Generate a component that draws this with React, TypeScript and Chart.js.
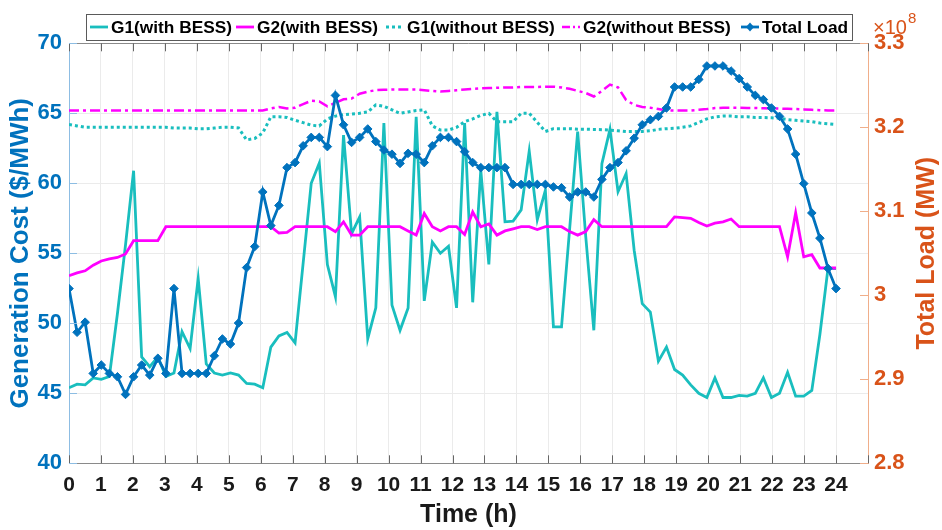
import React, { useEffect, useRef } from 'react';
import { Chart, registerables } from 'chart.js';

Chart.register(...registerables);

const FONT = '"Liberation Sans", Arial, Helvetica, sans-serif';
const BLUE = '#0072BD';
const ORANGE = '#D95319';
const TEAL = 'rgb(25,190,190)';
const MAGENTA = '#FF00FF';

// 96 samples over 0..24 h
const sampleCount = 96;
const timeH: number[] = Array.from({ length: sampleCount }, (_, i) => (i * 24) / (sampleCount - 1));

const xTickHours = [0, 1, 2, 3, 4, 5, 6, 7, 8, 9, 10, 11, 12, 13, 14, 15, 16, 17, 18, 19, 20, 21, 22, 23, 24];
const legendLabels = ['G1(with BESS)', 'G2(with BESS)', 'G1(without BESS)', 'G2(without BESS)', 'Total Load'];

const g1WithBess = [
  45.4, 45.65, 45.6, 46.1, 46.0, 46.2, 50.7, 55.6, 60.9, 47.6, 46.9, 47.6,
  46.2, 46.45, 49.4, 48.2, 53.2, 47.1, 46.45, 46.3, 46.45, 46.3, 45.7, 45.65,
  45.4, 48.3, 49.1, 49.35, 48.6, 54.3, 60.0, 61.45, 54.2, 51.9, 63.45, 56.4,
  57.6, 48.9, 51.1, 64.3, 51.3, 49.5, 51.1, 64.75, 51.6, 55.8, 55.0, 55.5,
  51.1, 64.3, 51.5, 60.95, 54.2, 65.1, 57.25, 57.3, 58.1, 62.3, 57.4, 59.5,
  49.75, 49.75, 56.7, 63.7, 56.2, 49.5, 61.4, 63.85, 59.4, 60.7, 55.2, 51.4,
  50.8, 47.3, 48.3, 46.7, 46.3, 45.6, 45.0, 44.7, 46.1, 44.7, 44.7, 44.85,
  44.8, 45.0, 46.1, 44.7, 45.0, 46.5, 44.8, 44.8, 45.2, 49.2, 53.9, 53.9,
];

const g2WithBess = [
  53.4, 53.6, 53.75, 54.15, 54.45, 54.6, 54.7, 54.95, 55.9, 55.9, 55.9, 55.9,
  56.9, 56.9, 56.9, 56.9, 56.9, 56.9, 56.9, 56.9, 56.9, 56.9, 56.9, 56.9,
  56.9, 56.9, 56.45, 56.5, 56.9, 56.9, 56.9, 56.9, 56.9, 56.55, 57.25, 56.3,
  56.3, 56.9, 56.9, 56.9, 56.9, 56.9, 56.6, 56.3, 57.85, 56.9, 56.6, 56.9,
  56.9, 56.35, 57.95, 56.9, 57.1, 56.3, 56.6, 56.75, 56.9, 56.9, 56.7, 56.9,
  56.9, 56.9, 56.55, 56.3, 56.55, 57.4, 56.9, 56.9, 56.9, 56.9, 56.9, 56.9,
  56.9, 56.9, 56.9, 57.6, 57.55, 57.5, 57.2, 56.95, 57.15, 57.25, 57.45, 56.9,
  56.9, 56.9, 56.9, 56.9, 56.9, 54.75, 57.9, 54.75, 54.9, 53.95, 53.95, 53.95,
];

const g1WithoutBess = [
  64.2, 64.1, 64.0, 64.0, 64.0, 64.0, 64.0, 64.0, 64.0, 64.0, 64.0, 64.0,
  64.0, 63.95, 63.95, 63.95, 63.9, 63.9, 63.95, 64.0, 64.0, 63.95, 63.1, 63.2,
  63.6, 64.75, 64.75, 64.7, 64.5, 64.33, 64.15, 64.1, 64.6, 64.8, 64.9, 64.95,
  65.0, 65.1, 65.6, 65.5, 65.25, 65.0, 65.1, 65.2, 65.25, 64.1, 63.8, 63.8,
  64.0, 64.4, 64.6, 64.85, 65.0, 64.4, 64.4, 64.4, 65.0, 65.0, 64.35, 63.7,
  63.9, 63.9, 63.9, 63.86, 63.86, 63.85, 63.83, 63.8, 63.75, 63.7, 63.7, 63.7,
  63.75, 63.85, 63.9, 63.93, 64.0, 64.1, 64.35, 64.6, 64.75, 64.8, 64.8, 64.75,
  64.75, 64.7, 64.7, 64.68, 64.65, 64.55, 64.5, 64.45, 64.4, 64.3, 64.25, 64.2,
];

const g2WithoutBess = [
  65.2, 65.2, 65.2, 65.2, 65.2, 65.2, 65.2, 65.2, 65.2, 65.2, 65.2, 65.2,
  65.2, 65.2, 65.2, 65.2, 65.2, 65.2, 65.2, 65.2, 65.2, 65.2, 65.2, 65.2,
  65.2, 65.35, 65.45, 65.35, 65.4, 65.65, 65.9, 65.85, 65.5, 65.75, 66.0, 66.05,
  66.4, 66.55, 66.65, 66.68, 66.7, 66.7, 66.7, 66.7, 66.65, 66.6, 66.55, 66.6,
  66.65, 66.7, 66.74, 66.78, 66.8, 66.82, 66.84, 66.85, 66.88, 66.88, 66.88, 66.9,
  66.9, 66.85, 66.75, 66.6, 66.45, 66.2, 66.6, 67.05, 66.85, 65.95, 65.6, 65.45,
  65.4, 65.3, 65.2, 65.2, 65.2, 65.2, 65.25, 65.3, 65.37, 65.4, 65.4, 65.4,
  65.38, 65.38, 65.36, 65.35, 65.34, 65.32, 65.3, 65.28, 65.25, 65.22, 65.2, 65.2,
];

// Total load in units of 1e8 MW
const totalLoad1e8 = [
  3.008, 2.956, 2.968, 2.907, 2.917, 2.907, 2.903, 2.882, 2.903, 2.917, 2.905, 2.925,
  2.907, 3.008, 2.907, 2.907, 2.907, 2.907, 2.928, 2.948, 2.942, 2.967, 3.033, 3.058,
  3.123, 3.083, 3.107, 3.152, 3.158, 3.178, 3.188, 3.188, 3.177, 3.238, 3.203, 3.182,
  3.188, 3.198, 3.183, 3.173, 3.168, 3.157, 3.169, 3.168, 3.158, 3.178, 3.188, 3.188,
  3.183, 3.171, 3.158, 3.152, 3.152, 3.152, 3.152, 3.132, 3.132, 3.132, 3.132, 3.132,
  3.129, 3.128, 3.117, 3.123, 3.123, 3.117, 3.138, 3.152, 3.158, 3.172, 3.187, 3.203,
  3.209, 3.213, 3.223, 3.248, 3.248, 3.248, 3.257, 3.273, 3.273, 3.273, 3.267, 3.258,
  3.248, 3.238, 3.233, 3.223, 3.213, 3.198, 3.168, 3.133, 3.098, 3.068, 3.032, 3.008,
];

const pts = (vals: number[]) => vals.map((v, i) => ({ x: timeH[i], y: v }));

const decorPlugin = {
  id: 'decor',
  afterDraw(chart: any) {
    const { ctx, chartArea: ca, scales } = chart;
    const xs = scales.x;
    const yl = scales.y;
    const yr = scales.y1;
    ctx.save();
    // top border
    ctx.strokeStyle = '#8a8a8a';
    ctx.lineWidth = 1;
    ctx.beginPath();
    ctx.moveTo(ca.left, Math.round(ca.top) + 0.5);
    ctx.lineTo(ca.right, Math.round(ca.top) + 0.5);
    ctx.stroke();
    // x tick marks (inward, bottom and top)
    ctx.strokeStyle = '#666666';
    for (let h = 0; h <= 25; h++) {
      const px = Math.round(xs.getPixelForValue(h)) + 0.5;
      ctx.beginPath();
      ctx.moveTo(px, ca.bottom);
      ctx.lineTo(px, ca.bottom - 8);
      ctx.moveTo(px, ca.top);
      ctx.lineTo(px, ca.top + 8);
      ctx.stroke();
    }
    // left ticks
    ctx.strokeStyle = '#8dbde3';
    for (let v = 40; v <= 70; v += 5) {
      const py = Math.round(yl.getPixelForValue(v)) + 0.5;
      ctx.beginPath();
      ctx.moveTo(ca.left, py);
      ctx.lineTo(ca.left + 8, py);
      ctx.stroke();
    }
    // right ticks
    ctx.strokeStyle = '#f0ae8a';
    for (let k = 0; k <= 5; k++) {
      const py = Math.round(yr.getPixelForValue(2.8 + k * 0.1)) + 0.5;
      ctx.beginPath();
      ctx.moveTo(ca.right, py);
      ctx.lineTo(ca.right - 8, py);
      ctx.stroke();
    }

    // right title, reading upward
    ctx.fillStyle = ORANGE;
    ctx.font = `bold 25px ${FONT}`;
    ctx.textAlign = 'center';
    ctx.textBaseline = 'middle';
    ctx.save();
    ctx.translate(927, (ca.top + ca.bottom) / 2);
    ctx.rotate(-Math.PI / 2);
    ctx.fillText('Total Load (MW)', 0, 0);
    ctx.restore();

    // exponent label
    ctx.textAlign = 'left';
    ctx.textBaseline = 'alphabetic';
    ctx.font = `20px ${FONT}`;
    ctx.fillText('\u00d710', 873, 34);
    const w = ctx.measureText('\u00d710').width;
    ctx.font = `15px ${FONT}`;
    ctx.fillText('8', 873 + w + 1, 23);

    // legend
    const bx = 86, by = 14, bw = 766, bh = 26;
    ctx.fillStyle = '#ffffff';
    ctx.fillRect(bx, by, bw, bh);
    ctx.strokeStyle = '#5a5a5a';
    ctx.lineWidth = 1;
    ctx.strokeRect(bx + 0.5, by + 0.5, bw, bh);
    const starts = [90, 236, 386, 562, 741];
    const ly = by + bh / 2;
    const styles = [
      { c: TEAL, dash: [] as number[], w: 2.8 },
      { c: MAGENTA, dash: [] as number[], w: 2.8 },
      { c: TEAL, dash: [3, 3], w: 3 },
      { c: MAGENTA, dash: [8, 3, 2, 3], w: 2.5 },
      { c: BLUE, dash: [] as number[], w: 2.8 },
    ];
    legendLabels.forEach((label, i) => {
      const sx = starts[i];
      const st = styles[i];
      ctx.save();
      ctx.strokeStyle = st.c;
      ctx.lineWidth = st.w;
      ctx.setLineDash(st.dash);
      ctx.beginPath();
      ctx.moveTo(sx, ly);
      ctx.lineTo(sx + 18, ly);
      ctx.stroke();
      ctx.restore();
      if (i === 4) {
        ctx.fillStyle = BLUE;
        ctx.beginPath();
        ctx.moveTo(sx + 9, ly - 4.5);
        ctx.lineTo(sx + 13, ly);
        ctx.lineTo(sx + 9, ly + 4.5);
        ctx.lineTo(sx + 5, ly);
        ctx.closePath();
        ctx.fill();
      }
      ctx.fillStyle = '#000000';
      ctx.font = `bold 17.3px ${FONT}`;
      ctx.textAlign = 'left';
      ctx.textBaseline = 'middle';
      ctx.fillText(label, sx + 21, ly + 1);
    });
    ctx.restore();
  },
};

export default function App() {
  const ref = useRef<HTMLCanvasElement>(null);
  useEffect(() => {
    document.body.style.margin = '0';
    const canvas = ref.current!;
    const chart = new Chart(canvas, {
      type: 'line',
      data: {
        datasets: [
          {
            label: legendLabels[4],
            data: pts(totalLoad1e8),
            yAxisID: 'y1',
            borderColor: BLUE,
            backgroundColor: BLUE,
            borderWidth: 2.8,
            pointStyle: 'rectRot',
            pointRadius: 4.3,
            pointBorderWidth: 1,
            pointBackgroundColor: BLUE,
            pointBorderColor: BLUE,
            tension: 0,
            order: 0,
          },
          {
            label: legendLabels[3],
            data: pts(g2WithoutBess),
            yAxisID: 'y',
            borderColor: MAGENTA,
            borderWidth: 2.5,
            borderDash: [10, 4, 3, 4],
            pointRadius: 0,
            tension: 0,
            order: 1,
          },
          {
            label: legendLabels[2],
            data: pts(g1WithoutBess),
            yAxisID: 'y',
            borderColor: TEAL,
            borderWidth: 3,
            borderDash: [3, 3],
            pointRadius: 0,
            tension: 0,
            order: 2,
          },
          {
            label: legendLabels[1],
            data: pts(g2WithBess),
            yAxisID: 'y',
            borderColor: MAGENTA,
            borderWidth: 2.8,
            pointRadius: 0,
            tension: 0,
            order: 3,
          },
          {
            label: legendLabels[0],
            data: pts(g1WithBess),
            yAxisID: 'y',
            borderColor: TEAL,
            borderWidth: 2.8,
            pointRadius: 0,
            tension: 0,
            order: 4,
          },
        ],
      },
      options: {
        animation: false,
        responsive: false,
        devicePixelRatio: 1,
        layout: { padding: { top: 43.3, left: 0, right: 0, bottom: 0 } },
        plugins: { legend: { display: false }, tooltip: { enabled: false } },
        scales: {
          x: {
            type: 'linear',
            min: 0,
            max: 25,
            afterFit: (s: any) => { s.height = 66.7; },
            afterBuildTicks: (s: any) => { s.ticks = [...xTickHours, 25].map((v) => ({ value: v })); },
            ticks: {
              autoSkip: false,
              maxRotation: 0,
              padding: 9,
              color: '#1a1a1a',
              font: { family: FONT, size: 21, weight: 'bold' },
              callback: (v: any) => (Number(v) <= 24 ? String(v) : ''),
            },
            grid: { color: '#ebebeb', drawTicks: false },
            border: { color: '#8a8a8a' },
            title: {
              display: true,
              text: 'Time (h)',
              color: '#1a1a1a',
              font: { family: FONT, size: 25, weight: 'bold' },
              padding: { top: 0, bottom: 0 },
            },
          },
          y: {
            position: 'left',
            min: 40,
            max: 70,
            afterFit: (s: any) => { s.width = 69; },
            ticks: {
              stepSize: 5,
              padding: 7,
              color: BLUE,
              font: { family: FONT, size: 22, weight: 'bold' },
            },
            grid: { color: '#ebebeb', drawTicks: false },
            border: { color: '#8dbde3' },
            title: {
              display: true,
              text: 'Generation Cost ($/MWh)',
              color: BLUE,
              font: { family: FONT, size: 26, weight: 'bold' },
              padding: { top: 5, bottom: 0 },
            },
          },
          y1: {
            position: 'right',
            min: 2.8,
            max: 3.3,
            afterFit: (s: any) => { s.width = 74; },
            ticks: {
              stepSize: 0.1,
              padding: 6,
              color: ORANGE,
              font: { family: FONT, size: 22, weight: 'bold' },
              callback: (v: any) => String(Math.round(Number(v) * 10) / 10),
            },
            grid: { drawOnChartArea: false, drawTicks: false },
            border: { color: '#f0ae8a' },
          },
        },
      },
      plugins: [decorPlugin],
    } as any);
    return () => chart.destroy();
  }, []);
  return <canvas ref={ref} width={942} height={530} style={{ display: 'block', width: '942px', height: '530px' }} />;
}
